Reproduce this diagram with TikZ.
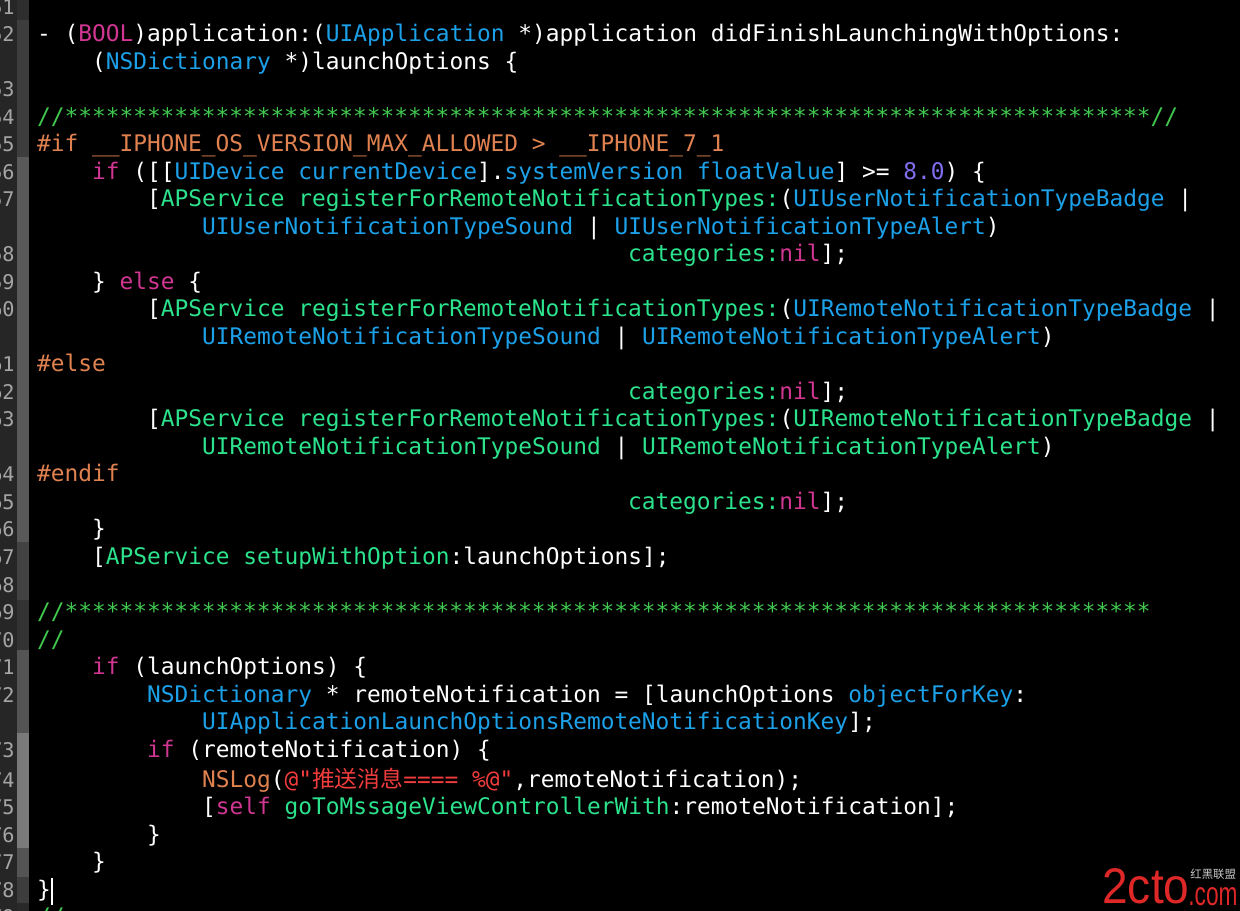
\documentclass[tikz,border=0pt]{standalone}
\usepackage{fontspec}
\setmonofont{DejaVu Sans Mono}
\newfontfamily\cjk{Noto Sans CJK SC}
\newfontfamily\logofont{Liberation Sans}
\usepackage{tikz}
\usetikzlibrary{positioning}
\usepackage{xcolor}
\definecolor{kwpink}{RGB}{208,54,146}
\definecolor{typeblue}{RGB}{28,160,232}
\definecolor{projgreen}{RGB}{44,226,140}
\definecolor{commgreen}{RGB}{64,200,78}
\definecolor{pporange}{RGB}{224,130,80}
\definecolor{numpurple}{RGB}{128,110,240}
\definecolor{strred}{RGB}{240,60,60}
\definecolor{gutterbg}{RGB}{38,38,38}
\definecolor{linegray}{RGB}{165,165,165}
\definecolor{logored}{RGB}{222,40,40}
\newcommand{\kw}[1]{\textcolor{kwpink}{#1}}
\newcommand{\ty}[1]{\textcolor{typeblue}{#1}}
\newcommand{\pj}[1]{\textcolor{projgreen}{#1}}
\newcommand{\cmt}[1]{\textcolor{commgreen}{#1}}
\newcommand{\ppc}[1]{\textcolor{pporange}{#1}}
\newcommand{\nbr}[1]{\textcolor{numpurple}{#1}}
\newcommand{\strg}[1]{\textcolor{strred}{#1}}
\newcommand{\asts}{**********%
**********%
**********%
**********%
**********%
**********%
**********%
*********}
\tikzset{
    codeline/.style = {anchor=base west, inner sep=0pt, outer sep=0pt, text=white,
                       font=\ttfamily\fontsize{13}{15.6}\selectfont},
    lnum/.style = {anchor=base east, inner sep=0pt, text=linegray,
                   font=\ttfamily\fontsize{11.5}{13}\selectfont},
    logo/.style = {anchor=base west, inner sep=0pt, text=logored}
    }

\begin{document}
\frenchspacing
\begin{tikzpicture}[
      x = 0.02cm, y = -0.02cm % one unit is one pixel of the screenshot
    ]
    \useasboundingbox (0,0) rectangle (1240,911);
    \fill[black] (0,0) rectangle (1240,911);

    % gutter and fold ribbon
    \fill[gutterbg] (0,0) rectangle (17,911);
    \fill[black!82] (17,0) rectangle (29,20);
    \fill[black!76] (17,20) rectangle (29,157);
    \fill[black!65] (17,157) rectangle (29,542);
    \fill[black!74] (17,542) rectangle (29,600);
    \fill[black!80] (17,600) rectangle (29,650);
    \fill[black!67] (17,650) rectangle (29,733);
    \fill[black!52] (17,733) rectangle (29,848);
    \fill[black!67] (17,848) rectangle (29,877);
    \fill[black!76] (17,877) rectangle (29,903);
    \fill[black!84] (17,903) rectangle (29,911);

    \node[lnum] (n51) at (15,14.5) {51};
    \node[lnum] (n52) at (15,42) {52};
    \node[lnum] (n53) at (15,97) {53};
    \node[lnum] (n54) at (15,124.5) {54};
    \node[lnum] (n55) at (15,152) {55};
    \node[lnum] (n56) at (15,179.5) {56};
    \node[lnum] (n57) at (15,207) {57};
    \node[lnum] (n58) at (15,262) {58};
    \node[lnum] (n59) at (15,289.5) {59};
    \node[lnum] (n60) at (15,317) {60};
    \node[lnum] (n61) at (15,372) {61};
    \node[lnum] (n62) at (15,399.5) {62};
    \node[lnum] (n63) at (15,427) {63};
    \node[lnum] (n64) at (15,482) {64};
    \node[lnum] (n65) at (15,509.5) {65};
    \node[lnum] (n66) at (15,537) {66};
    \node[lnum] (n67) at (15,564.5) {67};
    \node[lnum] (n68) at (15,592) {68};
    \node[lnum] (n69) at (15,619.5) {69};
    \node[lnum] (n70) at (15,647) {70};
    \node[lnum] (n71) at (15,674.5) {71};
    \node[lnum] (n72) at (15,702) {72};
    \node[lnum] (n73) at (15,757) {73};
    \node[lnum] (n74) at (15,787) {74};
    \node[lnum] (n75) at (15,814.5) {75};
    \node[lnum] (n76) at (15,842) {76};
    \node[lnum] (n77) at (15,869.5) {77};
    \node[lnum] (n78) at (15,897) {78};
    \node[lnum] (n79) at (15,924.5) {79};

    % code lines, columns 0 / 4 / 8 / 12 / 43
    \node[codeline] (c52) at (37,42) {- (\kw{BOOL})application:(\ty{UIApplication} *)application didFinishLaunchingWithOptions:};
    \node[codeline] (c52w) at (92,69.5) {(\ty{NSDictionary} *)launchOptions \{};
    \node[codeline] (c54) at (37,124.5) {\cmt{//\asts//}};
    \node[codeline] (c55) at (37,152) {\ppc{\#if \_\_IPHONE\_OS\_VERSION\_MAX\_ALLOWED > \_\_IPHONE\_7\_1}};
    \node[codeline] (c56) at (92,179.5) {\kw{if} ([[\ty{UIDevice} \ty{currentDevice}].\ty{systemVersion} \ty{floatValue}] >= \nbr{8.0}) \{};
    \node[codeline] (c57) at (147,207) {[\pj{APService registerForRemoteNotificationTypes:}(\ty{UIUserNotificationTypeBadge} |};
    \node[codeline] (c57w) at (202,234.5) {\ty{UIUserNotificationTypeSound} | \ty{UIUserNotificationTypeAlert})};
    \node[codeline] (c58) at (628,262) {\pj{categories:}\kw{nil}];};
    \node[codeline] (c59) at (92,289.5) {\} \kw{else} \{};
    \node[codeline] (c60) at (147,317) {[\pj{APService registerForRemoteNotificationTypes:}(\ty{UIRemoteNotificationTypeBadge} |};
    \node[codeline] (c60w) at (202,344.5) {\ty{UIRemoteNotificationTypeSound} | \ty{UIRemoteNotificationTypeAlert})};
    \node[codeline] (c61) at (37,372) {\ppc{\#else}};
    \node[codeline] (c62) at (628,399.5) {\pj{categories:}\kw{nil}];};
    \node[codeline] (c63) at (147,427) {[\pj{APService registerForRemoteNotificationTypes:}(\pj{UIRemoteNotificationTypeBadge} |};
    \node[codeline] (c63w) at (202,454.5) {\pj{UIRemoteNotificationTypeSound} | \pj{UIRemoteNotificationTypeAlert})};
    \node[codeline] (c64) at (37,482) {\ppc{\#endif}};
    \node[codeline] (c65) at (628,509.5) {\pj{categories:}\kw{nil}];};
    \node[codeline] (c66) at (92,537) {\}};
    \node[codeline] (c67) at (92,564.5) {[\pj{APService setupWithOption}:launchOptions];};
    \node[codeline] (c69) at (37,619.5) {\cmt{//\asts}};
    \node[codeline] (c70) at (37,647) {\cmt{//}};
    \node[codeline] (c71) at (92,674.5) {\kw{if} (launchOptions) \{};
    \node[codeline] (c72) at (147,702) {\ty{NSDictionary} * remoteNotification = [launchOptions \ty{objectForKey}:};
    \node[codeline] (c72w) at (202,729.5) {\ty{UIApplicationLaunchOptionsRemoteNotificationKey}];};
    \node[codeline] (c73) at (147,757) {\kw{if} (remoteNotification) \{};
    \node[codeline] (c74) at (202,787) {\ppc{NSLog}(\strg{@"{\cjk 推送消息}==== \%@"},remoteNotification);};
    \node[codeline] (c75) at (202,814.5) {[\kw{self} \pj{goToMssageViewControllerWith}:remoteNotification];};
    \node[codeline] (c76) at (147,842) {\}};
    \node[codeline] (c77) at (92,869.5) {\}};
    \node[codeline] (c78) at (37,897) {\}};
    \node[codeline] (c79) at (37,924.5) {\cmt{//}};

    % text cursor
    \draw[white, semithick] (52,878) -- (52,905);

    % watermark
    \node[logo] (wm2cto) at (1102,903) {\logofont\fontsize{28.5}{30}\selectfont\scalebox{0.92}[1]{2cto}};
    \node[logo, text=black!22] (wmcn) at (1190,878) {\cjk\fontsize{6.5}{7}\selectfont 红黑联盟};
    \node[logo] (wmcom) at (1188,905) {\logofont\fontsize{19}{21}\selectfont\scalebox{0.68}[1]{.com}};
\end{tikzpicture}
\end{document}
